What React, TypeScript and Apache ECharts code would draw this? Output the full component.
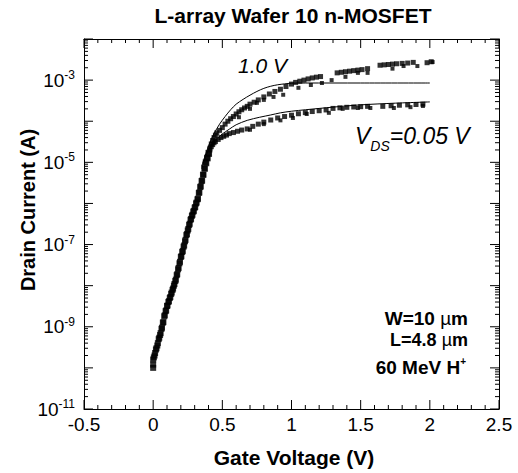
import React, { useEffect, useRef } from "react";
import * as echarts from "echarts";

const FONT = "'Liberation Sans', Arial, Helvetica, sans-serif";

const xMin = -0.5;
const xMax = 2.5;
const yMinExp = -11;
const yMaxExp = -2;
const labeledExps = [-11, -9, -7, -5, -3];

const sub10: [number, number][] = [
  [0.0, 1.0e-10], [0.0, 1.6e-10], [0.01, 2.0e-10], [0.02, 2.8e-10], [0.03, 3.5e-10], [0.04, 5.0e-10],
  [0.05, 6.3e-10], [0.06, 8.9e-10], [0.07, 1.26e-9], [0.08, 1.8e-9], [0.09, 2.4e-9], [0.1, 3.2e-9],
  [0.11, 4.0e-9], [0.12, 5.0e-9], [0.13, 6.3e-9], [0.14, 7.9e-9], [0.15, 1.0e-8], [0.16, 1.3e-8],
  [0.17, 1.8e-8], [0.18, 2.5e-8], [0.19, 3.5e-8], [0.2, 5.0e-8], [0.21, 6.6e-8], [0.22, 8.9e-8],
  [0.23, 1.2e-7], [0.24, 1.7e-7], [0.25, 2.2e-7], [0.26, 3.0e-7], [0.27, 4.0e-7], [0.28, 5.0e-7],
  [0.29, 6.3e-7], [0.3, 7.9e-7], [0.31, 1.0e-6], [0.32, 1.26e-6], [0.33, 1.8e-6], [0.34, 2.5e-6],
  [0.35, 3.5e-6], [0.36, 5.0e-6], [0.37, 7.1e-6], [0.38, 1.0e-5], [0.39, 1.3e-5], [0.4, 1.7e-5],
];
const sub005: [number, number][] = [
  [0.0, 1.2e-10], [0.005, 1.8e-10], [0.014, 2.3e-10], [0.024, 3.0e-10], [0.034, 4.0e-10], [0.044, 5.4e-10],
  [0.054, 7.0e-10], [0.064, 9.5e-10], [0.074, 1.3e-9], [0.084, 1.9e-9], [0.094, 2.5e-9], [0.104, 3.3e-9],
  [0.114, 4.2e-9], [0.124, 5.3e-9], [0.134, 6.8e-9], [0.144, 8.5e-9], [0.154, 1.1e-8], [0.164, 1.4e-8],
  [0.174, 1.9e-8], [0.184, 2.7e-8], [0.194, 3.8e-8], [0.204, 5.2e-8], [0.214, 7.0e-8], [0.224, 9.5e-8],
  [0.234, 1.3e-7], [0.244, 1.8e-7], [0.254, 2.4e-7], [0.264, 3.2e-7], [0.274, 4.2e-7], [0.284, 5.3e-7],
  [0.294, 6.6e-7], [0.304, 8.2e-7], [0.314, 1.05e-6], [0.324, 1.3e-6], [0.334, 1.85e-6], [0.344, 2.6e-6],
  [0.354, 3.6e-6], [0.364, 5.0e-6], [0.374, 7.0e-6], [0.384, 9.5e-6], [0.394, 1.25e-5], [0.404, 1.6e-5],
];
const on10Dense: [number, number][] = [
  [0.41, 2.2e-5], [0.42, 2.8e-5], [0.43, 3.4e-5], [0.44, 4.0e-5], [0.45, 4.6e-5], [0.46, 5.2e-5],
  [0.48, 6.0e-5], [0.5, 7.0e-5], [0.52, 8.5e-5], [0.54, 1.0e-4], [0.56, 1.15e-4], [0.58, 1.3e-4],
  [0.6, 1.5e-4], [0.62, 1.7e-4], [0.64, 1.9e-4], [0.66, 2.1e-4], [0.68, 2.3e-4], [0.7, 2.6e-4],
  [0.73, 2.9e-4], [0.76, 3.3e-4], [0.8, 3.9e-4], [0.84, 4.6e-4], [0.88, 5.3e-4], [0.92, 6.0e-4],
  [0.96, 7.0e-4], [1.0, 8.0e-4], [1.03, 8.8e-4], [1.06, 9.4e-4], [1.09, 1.0e-3], [1.12, 1.07e-3],
  [1.15, 1.13e-3], [1.18, 1.18e-3], [1.21, 1.22e-3], [1.33, 1.5e-3], [1.36, 1.55e-3], [1.39, 1.6e-3],
  [1.42, 1.65e-3], [1.45, 1.7e-3], [1.48, 1.75e-3], [1.51, 1.8e-3], [1.55, 1.9e-3], [1.64, 2.3e-3],
  [1.67, 2.35e-3], [1.7, 2.4e-3], [1.73, 2.45e-3], [1.76, 2.5e-3], [1.8, 2.55e-3], [1.84, 2.6e-3],
  [1.88, 2.7e-3], [1.98, 2.65e-3], [2.01, 2.8e-3],
];
const on10Sparse: [number, number][] = [
  [0.62, 1.25e-4], [0.7, 2.0e-4], [0.75, 2.8e-4], [0.8, 3.3e-4], [0.87, 3.9e-4], [0.94, 4.4e-4],
  [1.05, 6.5e-4], [1.14, 7.6e-4], [1.22, 8.5e-4], [1.29, 1.0e-3], [1.39, 1.2e-3], [1.48, 1.5e-3],
  [1.55, 1.5e-3], [1.73, 1.9e-3], [1.81, 2.2e-3], [1.91, 2.2e-3], [2.02, 2.75e-3],
];
const on005Dense: [number, number][] = [
  [0.41, 2.0e-5], [0.42, 2.4e-5], [0.43, 2.7e-5], [0.44, 3.0e-5], [0.45, 3.2e-5], [0.47, 3.6e-5],
  [0.49, 4.0e-5], [0.51, 4.3e-5], [0.53, 4.6e-5], [0.55, 5.0e-5], [0.58, 5.3e-5], [0.61, 5.7e-5],
  [0.64, 6.1e-5], [0.68, 6.5e-5], [0.72, 7.5e-5], [0.76, 8.5e-5], [0.8, 9.5e-5], [0.85, 1.07e-4],
  [0.9, 1.2e-4], [0.95, 1.3e-4], [1.0, 1.4e-4], [1.05, 1.52e-4], [1.1, 1.62e-4], [1.15, 1.72e-4],
  [1.2, 1.8e-4], [1.25, 1.88e-4], [1.3, 2.05e-4], [1.35, 2.12e-4], [1.4, 2.18e-4], [1.45, 2.22e-4],
  [1.5, 2.26e-4], [1.55, 2.3e-4], [1.66, 2.3e-4], [1.72, 2.38e-4], [1.78, 2.45e-4], [1.84, 2.5e-4],
  [1.9, 2.55e-4], [1.95, 2.6e-4],
];
const on005Sparse: [number, number][] = [
  [0.7, 6.2e-5], [0.8, 8.5e-5], [0.92, 1.05e-4], [1.01, 1.2e-4], [1.11, 1.5e-4], [1.27, 1.6e-4],
  [1.37, 2.0e-4], [1.48, 2.1e-4], [1.57, 2.1e-4], [1.74, 2.1e-4], [1.86, 2.2e-4], [1.95, 2.35e-4],
];
const line10: [number, number][] = [
  [0.35, 8e-6], [0.38, 1.6e-5], [0.41, 3.0e-5], [0.44, 5.0e-5], [0.48, 8.5e-5], [0.52, 1.3e-4],
  [0.56, 1.9e-4], [0.6, 2.6e-4], [0.65, 3.4e-4], [0.7, 4.3e-4], [0.75, 5.3e-4], [0.8, 6.3e-4],
  [0.85, 7.1e-4], [0.9, 7.7e-4], [0.95, 8.1e-4], [1.0, 8.4e-4], [1.1, 8.5e-4], [1.5, 8.5e-4], [2.0, 8.5e-4],
];
const line005: [number, number][] = [
  [0.35, 7e-6], [0.38, 1.4e-5], [0.41, 2.3e-5], [0.44, 3.2e-5], [0.47, 4.0e-5], [0.5, 4.9e-5],
  [0.55, 6.4e-5], [0.6, 8.2e-5], [0.68, 1.05e-4], [0.77, 1.25e-4], [0.85, 1.42e-4], [0.92, 1.6e-4],
  [1.0, 1.75e-4], [1.1, 1.9e-4], [1.3, 2.2e-4], [1.5, 2.5e-4], [1.75, 2.75e-4], [2.0, 2.95e-4],
];

// tick positions (axis decoration)
const yMajorTicks: number[] = [];
const yMinorTicks: number[] = [];
for (let e = yMinExp; e <= yMaxExp; e++) {
  yMajorTicks.push(Math.pow(10, e));
  if (e < yMaxExp) for (let k = 2; k <= 9; k++) yMinorTicks.push(k * Math.pow(10, e));
}
const xMajorTicks: number[] = [];
const xMinorTicks: number[] = [];
for (let i = 0; i <= 30; i++) {
  const v = Math.round((xMin + i * 0.1) * 10) / 10;
  if (i % 5 === 0) xMajorTicks.push(v);
  else xMinorTicks.push(v);
}

export default function App() {
  const ref = useRef<HTMLDivElement>(null);
  useEffect(() => {
    if (!ref.current) return;
    const chart = echarts.init(ref.current, undefined, { renderer: "svg" });
    const black = "#000";
    const scatterBase = (data: [number, number][], size: number) => ({
      type: "scatter",
      data,
      symbol: "rect",
      symbolSize: size,
      itemStyle: { color: black },
      silent: true,
      z: 3,
    });
    const lineBase = (data: [number, number][]) => ({
      type: "line",
      data,
      showSymbol: false,
      smooth: 0.3,
      lineStyle: { color: black, width: 1 },
      silent: true,
      z: 2,
    });
    const xAxisBase = {
      type: "value",
      min: xMin,
      max: xMax,
      interval: 0.5,
      axisLine: { show: true, onZero: false, lineStyle: { color: black, width: 1 } },
      axisTick: { show: false },
      splitLine: { show: false },
    };
    const yAxisBase = {
      type: "log",
      logBase: 10,
      min: Math.pow(10, yMinExp),
      max: Math.pow(10, yMaxExp),
      interval: 1,
      axisLine: { show: true, onZero: false, lineStyle: { color: black, width: 1 } },
      axisTick: { show: false },
      splitLine: { show: false },
    };
    const tickData: [number, number, number][] = [
      ...xMajorTicks.map((v) => [v, yMajorTicks[0], 0] as [number, number, number]),
      ...xMinorTicks.map((v) => [v, yMajorTicks[0], 1] as [number, number, number]),
      ...yMajorTicks.map((v) => [xMin, v, 2] as [number, number, number]),
      ...yMinorTicks.map((v) => [xMin, v, 3] as [number, number, number]),
    ];
    const yLo = Math.pow(10, yMinExp);
    const yHi = Math.pow(10, yMaxExp);
    chart.setOption({
      animation: false,
      backgroundColor: "#fff",
      grid: { left: 84, right: 19, top: 39, bottom: 64, containLabel: false },
      xAxis: [
        {
          ...xAxisBase,
          position: "bottom",
          axisLabel: {
            color: black,
            fontSize: 19,
            fontFamily: FONT,
            margin: 6,
            formatter: (v: number) => String(v),
          },
        },
        { ...xAxisBase, position: "top", axisLabel: { show: false } },
      ],
      yAxis: [
        {
          ...yAxisBase,
          position: "left",
          axisLabel: {
            color: black,
            margin: 9,
            formatter: (v: number) => {
              const e = Math.round(Math.log10(v));
              return labeledExps.includes(e) ? `{b|10}{s|${e}}` : "";
            },
            rich: {
              b: { fontSize: 19, fontFamily: FONT, color: black, lineHeight: 22 },
              s: { fontSize: 12, fontFamily: FONT, color: black, lineHeight: 13, verticalAlign: "top" },
            },
          },
        },
        { ...yAxisBase, position: "right", axisLabel: { show: false } },
      ],
      series: [
        lineBase(line10),
        lineBase(line005),
        scatterBase(sub10, 6),
        scatterBase(sub005, 6),
        scatterBase(on10Dense, 5),
        scatterBase(on10Sparse, 4),
        scatterBase(on005Dense, 5),
        scatterBase(on005Sparse, 4),
        {
          type: "custom",
          coordinateSystem: "cartesian2d",
          data: tickData,
          encode: { x: 0, y: 1 },
          silent: true,
          clip: false,
          z: 5,
          renderItem: (_p: any, api: any) => {
            const kind = api.value(2);
            const stroke = { stroke: black, lineWidth: 1 };
            if (kind <= 1) {
              const v = api.value(0);
              const b = api.coord([v, yLo]);
              const t = api.coord([v, yHi]);
              const len = kind === 0 ? 9 : 4;
              return {
                type: "group",
                children: [
                  { type: "line", shape: { x1: b[0], y1: b[1], x2: b[0], y2: b[1] - len }, style: stroke },
                  { type: "line", shape: { x1: t[0], y1: t[1], x2: t[0], y2: t[1] + len }, style: stroke },
                ],
              };
            }
            const v = api.value(1);
            const l = api.coord([xMin, v]);
            const r = api.coord([xMax, v]);
            const len = kind === 2 ? 9 : 4;
            return {
              type: "group",
              children: [
                { type: "line", shape: { x1: l[0], y1: l[1], x2: l[0] + len, y2: l[1] }, style: stroke },
                { type: "line", shape: { x1: r[0] - len, y1: r[1], x2: r[0], y2: r[1] }, style: stroke },
              ],
            };
          },
        },
      ],
      graphic: [
        {
          type: "text", x: 293, y: 15,
          style: { text: "L-array Wafer 10 n-MOSFET", fontSize: 21, fontWeight: "bold", fontFamily: FONT, fill: black, align: "center", verticalAlign: "middle" },
        },
        {
          type: "text", x: 28, y: 210, rotation: Math.PI / 2,
          style: { text: "Drain Current (A)", fontSize: 20, fontWeight: "bold", fontFamily: FONT, fill: black, align: "center", verticalAlign: "middle" },
        },
        {
          type: "text", x: 294, y: 457,
          style: { text: "Gate Voltage (V)", fontSize: 21, fontWeight: "bold", fontFamily: FONT, fill: black, align: "center", verticalAlign: "middle" },
        },
        {
          type: "text", x: 238, y: 65,
          style: { text: "1.0 V", fontSize: 21, fontStyle: "italic", fontFamily: FONT, fill: black, align: "left", verticalAlign: "middle" },
        },
        {
          type: "text", x: 355, y: 136,
          style: {
            text: "{v|V}{d|DS}{v|=0.05 V}", align: "left", verticalAlign: "middle",
            rich: {
              v: { fontSize: 23, fontStyle: "italic", fontFamily: FONT, fill: black, color: black, lineHeight: 26 },
              d: { fontSize: 14, fontStyle: "italic", fontFamily: FONT, fill: black, color: black, lineHeight: 14, verticalAlign: "bottom", padding: [0, 0, -4, 0] },
            },
          },
        },
        {
          type: "text", x: 468, y: 318,
          style: {
            text: "{b|W=10 }{m|µ}{b|m}", align: "right", verticalAlign: "middle",
            rich: {
              b: { fontSize: 19, fontWeight: "bold", fontFamily: FONT, fill: black, color: black },
              m: { fontSize: 19, fontFamily: FONT, fill: black, color: black },
            },
          },
        },
        {
          type: "text", x: 468, y: 340,
          style: {
            text: "{b|L=4.8 }{m|µ}{b|m}", align: "right", verticalAlign: "middle",
            rich: {
              b: { fontSize: 18, fontWeight: "bold", fontFamily: FONT, fill: black, color: black },
              m: { fontSize: 18, fontFamily: FONT, fill: black, color: black },
            },
          },
        },
        {
          type: "text", x: 466, y: 367,
          style: {
            text: "{b|60 MeV H}{p|+}", align: "right", verticalAlign: "middle",
            rich: {
              b: { fontSize: 19, fontWeight: "bold", fontFamily: FONT, fill: black, color: black, lineHeight: 22 },
              p: { fontSize: 10, fontWeight: "bold", fontFamily: FONT, fill: black, color: black, lineHeight: 10, verticalAlign: "top" },
            },
          },
        },
      ],
    });
    return () => chart.dispose();
  }, []);
  return (
    <div
      ref={ref}
      style={{ position: "fixed", left: 0, top: 0, width: 518, height: 473, background: "#fff" }}
    />
  );
}
